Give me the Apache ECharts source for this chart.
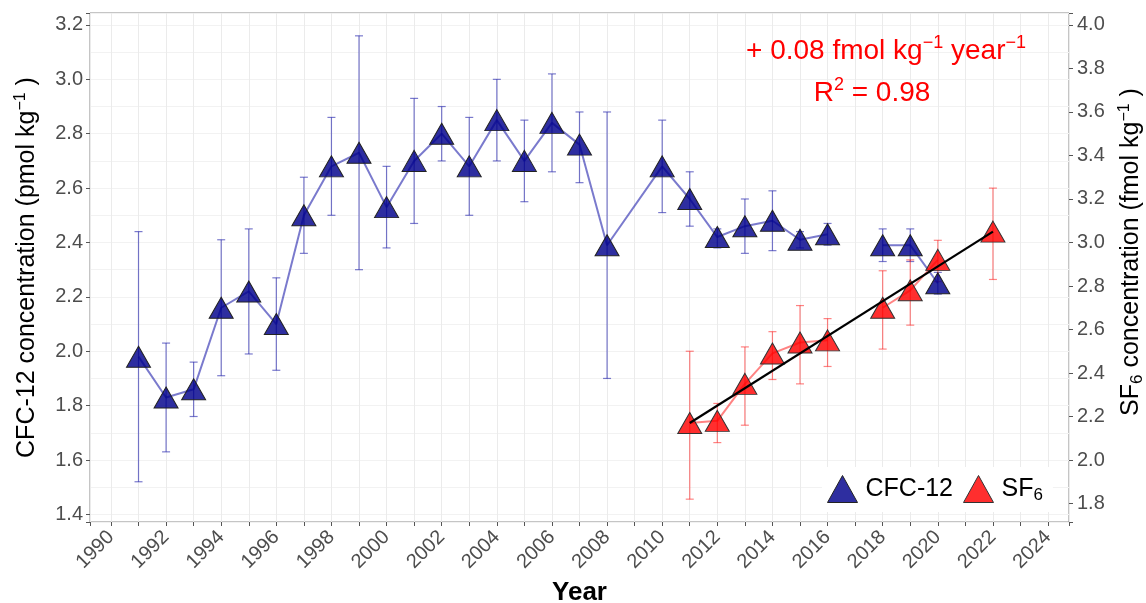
<!DOCTYPE html>
<html>
<head>
<meta charset="utf-8">
<script src="https://cdn.jsdelivr.net/npm/echarts@6/dist/echarts.min.js"></script>
<style>
  html, body { margin: 0; padding: 0; background: #fff; }
  #chart { width: 1146px; height: 603px; }
</style>
</head>
<body>
<div id="chart"></div>
<script>
// CFC-12 (pmol/kg), mean and error bar ends; null = no sample that year
const cfcYears = [1991, 1992, 1993, 1994, 1995, 1996, 1997, 1998, 1999, 2000, 2001, 2002, 2003, 2004, 2005, 2006, 2007, 2008, 2010, 2011, 2012, 2013, 2014, 2015, 2016, 2017, 2018, 2019, 2020];
const cfcMean = [1.98, 1.83, 1.86, 2.16, 2.22, 2.10, 2.50, 2.68, 2.73, 2.53, 2.70, 2.80, 2.68, 2.85, 2.70, 2.84, 2.76, 2.39, 2.68, 2.56, 2.42, 2.46, 2.48, 2.41, 2.43, null, 2.39, 2.39, 2.25];
const cfcLow = [1.52, 1.63, 1.76, 1.91, 1.99, 1.93, 2.36, 2.50, 2.30, 2.38, 2.47, 2.70, 2.50, 2.70, 2.55, 2.66, 2.62, 1.90, 2.51, 2.46, 2.38, 2.36, 2.37, 2.38, 2.39, null, 2.33, 2.33, 2.21];
const cfcHigh = [2.44, 2.03, 1.96, 2.41, 2.45, 2.27, 2.64, 2.86, 3.16, 2.68, 2.93, 2.90, 2.86, 3.00, 2.85, 3.02, 2.88, 2.88, 2.85, 2.66, 2.45, 2.56, 2.59, 2.44, 2.47, null, 2.45, 2.45, 2.29];

// SF6 (fmol/kg)
const sf6Years = [2011, 2012, 2013, 2014, 2015, 2016, 2017, 2018, 2019, 2020, 2021, 2022];
const sf6Mean = [2.17, 2.18, 2.35, 2.49, 2.54, 2.55, null, 2.70, 2.78, 2.92, null, 3.05];
const sf6Low = [1.82, 2.08, 2.16, 2.37, 2.35, 2.43, null, 2.51, 2.62, 2.82, null, 2.83];
const sf6High = [2.50, 2.26, 2.52, 2.59, 2.71, 2.65, null, 2.87, 2.92, 3.01, null, 3.25];

// linear fit of SF6 (+0.08 per year)
const fitYears = [2011, 2022];
const fitValues = [2.17, 3.05];

// axis ranges; right axis is left axis x 1.25
const xRange = [1989.24, 2024.76];
const leftRange = [1.372, 3.244];
const secScale = 1.25;

var chart = echarts.init(document.getElementById('chart'));

const font = '"Liberation Sans", Arial, sans-serif';
const blueLine = 'rgba(40,40,175,0.62)';
const redLine = 'rgba(255,30,30,0.55)';
const blueFill = 'rgba(0,0,139,0.82)';
const redFill = 'rgba(255,0,0,0.82)';

function toPairs(years, vals) {
    return years.map((y, i) => [y, vals[i] == null ? '-' : vals[i]]);
}
function toBars(years, lo, hi) {
    return years.map((y, i) => [y, lo[i], hi[i]]).filter(d => d[1] != null);
}

function errorBar(color) {
    return function (params, api) {
        const x = api.value(0);
        const lo = api.coord([x, api.value(1)]);
        const hi = api.coord([x, api.value(2)]);
        const hw = 4;
        const style = { stroke: color, lineWidth: 1.2 };
        return {
            type: 'group',
            children: [
                { type: 'line', shape: { x1: lo[0], y1: lo[1], x2: hi[0], y2: hi[1] }, style: style },
                { type: 'line', shape: { x1: lo[0] - hw, y1: lo[1], x2: lo[0] + hw, y2: lo[1] }, style: style },
                { type: 'line', shape: { x1: hi[0] - hw, y1: hi[1], x2: hi[0] + hw, y2: hi[1] }, style: style }
            ]
        };
    };
}

const tickLabel = { color: '#4d4d4d', fontSize: 20, fontFamily: font };
const supStyle = { fontSize: 16, verticalAlign: 'top', padding: [0, 0, 12, 0] };
const tickFmt = function (v) {
    return Math.abs(v * 5 - Math.round(v * 5)) < 1e-6 ? v.toFixed(1) : '';
};

option = {
    animation: false,
    backgroundColor: '#fff',
    grid: {
        left: 90, top: 13, right: 77, bottom: 81,
        outerBoundsMode: 'none',
        containLabel: false,
        show: true, borderColor: '#8a8a8a', borderWidth: 1
    },
    legend: {
        data: [
            { name: 'CFC-12', icon: 'triangle', itemStyle: { color: blueFill, borderColor: '#222', borderWidth: 1 } },
            { name: 'SF6', icon: 'triangle', itemStyle: { color: redFill, borderColor: '#333', borderWidth: 1 } }
        ],
        left: 822, top: 467,
        padding: [8, 10, 8, 5],
        itemGap: 10,
        itemWidth: 30, itemHeight: 27,
        backgroundColor: '#fff',
        formatter: function (name) {
            return name === 'SF6' ? 'SF{sub|6}' : name;
        },
        textStyle: {
            color: '#000', fontSize: 25, fontFamily: font, padding: [0, 0, 0, 3],
            rich: { sub: { fontSize: 17, padding: [13, 0, 0, 0], fontFamily: font, color: '#000' } }
        }
    },
    xAxis: {
        type: 'value',
        min: xRange[0], max: xRange[1],
        minInterval: 1, maxInterval: 1,
        name: 'Year',
        nameLocation: 'middle',
        nameGap: 57,
        nameTextStyle: { color: '#000', fontSize: 26, fontWeight: 'bold', fontFamily: font },
        axisLine: { show: false },
        axisTick: { show: true, length: 4, lineStyle: { color: '#555' } },
        axisLabel: Object.assign({
            rotate: 45, margin: 12,
            formatter: function (v) {
                return (Number.isInteger(v) && v % 2 === 0) ? String(v) : '';
            }
        }, tickLabel),
        splitLine: { show: true, lineStyle: { color: '#ebebeb', width: 1 } }
    },
    yAxis: [
        {
            type: 'value',
            min: leftRange[0], max: leftRange[1],
            minInterval: 0.2, maxInterval: 0.2,
            name: 'CFC-12 concentration (pmol kg{sup|−1} )',
            nameLocation: 'middle',
            nameGap: 49,
            nameTextStyle: { color: '#000', fontSize: 25, fontFamily: font, rich: { sup: supStyle } },
            axisLine: { show: false },
            axisTick: { show: true, length: 4, lineStyle: { color: '#555' } },
            axisLabel: Object.assign({ margin: 7, formatter: tickFmt }, tickLabel),
            splitLine: { show: true, lineStyle: { color: '#ebebeb', width: 1 } }
        },
        {
            type: 'value',
            position: 'right',
            min: leftRange[0] * secScale, max: leftRange[1] * secScale,
            minInterval: 0.2, maxInterval: 0.2,
            axisLine: { show: false },
            axisTick: { show: true, length: 4, lineStyle: { color: '#555' } },
            axisLabel: Object.assign({ margin: 8, formatter: tickFmt }, tickLabel),
            splitLine: { show: false }
        },
        {
            // hidden axis only for the 0.1 minor grid lines
            type: 'value',
            min: leftRange[0], max: leftRange[1],
            minInterval: 0.1, maxInterval: 0.1,
            show: true,
            axisLine: { show: false }, axisTick: { show: false }, axisLabel: { show: false },
            splitLine: { show: true, lineStyle: { color: '#f2f2f2', width: 1 } }
        }
    ],
    graphic: [
        {
            // right axis title
            type: 'text', x: 1131, y: 252, rotation: Math.PI / 2, z: 100,
            style: {
                text: 'SF{sub|6} concentration (fmol kg{sup|−1} )',
                fill: '#000', fontSize: 25, fontFamily: font,
                align: 'center', verticalAlign: 'middle',
                rich: {
                    sup: { fontSize: 16, fill: '#000', padding: [0, 0, 12, 0], fontFamily: font },
                    sub: { fontSize: 17, fill: '#000', padding: [12, 0, 0, 0], fontFamily: font }
                }
            }
        },
        {
            type: 'text', x: 886, y: 51, z: 100,
            style: {
                text: '+ 0.08 fmol kg{sup|−1} year{sup|−1}',
                fill: '#ff0000', fontSize: 28, fontFamily: font,
                align: 'center', verticalAlign: 'middle',
                rich: { sup: { fontSize: 18, fill: '#ff0000', padding: [0, 0, 15, 0], fontFamily: font } }
            }
        },
        {
            type: 'text', x: 872, y: 93, z: 100,
            style: {
                text: 'R{sup|2} = 0.98',
                fill: '#ff0000', fontSize: 28, fontFamily: font,
                align: 'center', verticalAlign: 'middle',
                rich: { sup: { fontSize: 18, fill: '#ff0000', padding: [0, 0, 15, 0], fontFamily: font } }
            }
        }
    ],
    series: [
        {
            type: 'custom', name: 'cfcErr', yAxisIndex: 0, z: 2,
            renderItem: errorBar(blueLine),
            data: toBars(cfcYears, cfcLow, cfcHigh)
        },
        {
            type: 'custom', name: 'sf6Err', yAxisIndex: 1, z: 2,
            renderItem: errorBar(redLine),
            data: toBars(sf6Years, sf6Low, sf6High)
        },
        {
            name: 'CFC-12', type: 'line', yAxisIndex: 0, z: 3,
            data: toPairs(cfcYears, cfcMean),
            symbol: 'triangle', symbolSize: [24, 21],
            lineStyle: { color: blueLine, width: 2 },
            itemStyle: { color: blueFill, borderColor: '#222', borderWidth: 1 }
        },
        {
            name: 'SF6', type: 'line', yAxisIndex: 1, z: 4,
            data: toPairs(sf6Years, sf6Mean),
            symbol: 'triangle', symbolSize: [24, 21],
            lineStyle: { color: redLine, width: 2 },
            itemStyle: { color: redFill, borderColor: '#333', borderWidth: 1 }
        },
        {
            name: 'fit', type: 'line', yAxisIndex: 1, z: 5,
            data: fitYears.map((y, i) => [y, fitValues[i]]),
            symbol: 'none',
            lineStyle: { color: '#000', width: 2.2 }
        }
    ]
};

option && chart.setOption(option);
</script>
</body>
</html>
